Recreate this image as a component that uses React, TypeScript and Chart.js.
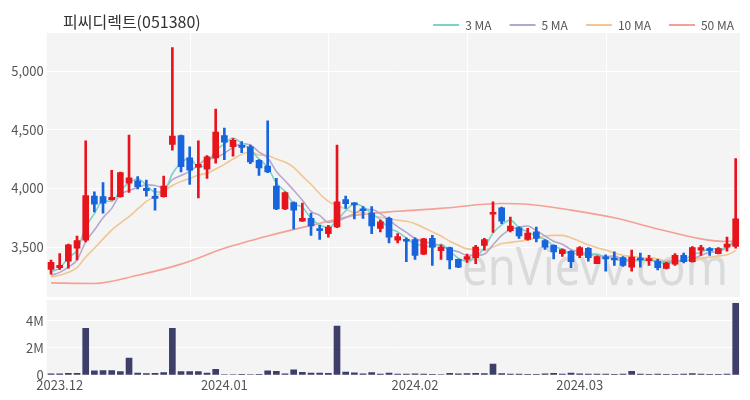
import React, { useEffect, useRef } from 'react';
import { Chart, registerables } from 'chart.js';

Chart.register(...registerables);

const FONT = '"Noto Sans CJK KR", "Noto Sans", sans-serif';
Chart.defaults.font.family = FONT;

const titleText = '피씨디렉트(051380)';
const watermarkText = 'enVievv.com';

const dates = [
  '2023-11-30',
  '2023-12-01', '2023-12-04', '2023-12-05', '2023-12-06', '2023-12-07', '2023-12-08', '2023-12-11', '2023-12-12', '2023-12-13', '2023-12-14',
  '2023-12-15', '2023-12-18', '2023-12-19', '2023-12-20', '2023-12-21', '2023-12-22', '2023-12-26', '2023-12-27', '2023-12-28',
  '2024-01-02', '2024-01-03', '2024-01-04', '2024-01-05', '2024-01-08', '2024-01-09', '2024-01-10', '2024-01-11', '2024-01-12', '2024-01-15',
  '2024-01-16', '2024-01-17', '2024-01-18', '2024-01-19', '2024-01-22', '2024-01-23', '2024-01-24', '2024-01-25', '2024-01-26', '2024-01-29',
  '2024-01-30', '2024-01-31',
  '2024-02-01', '2024-02-02', '2024-02-05', '2024-02-06', '2024-02-07', '2024-02-08', '2024-02-13', '2024-02-14', '2024-02-15', '2024-02-16',
  '2024-02-19', '2024-02-20', '2024-02-21', '2024-02-22', '2024-02-23', '2024-02-26', '2024-02-27', '2024-02-28', '2024-02-29',
  '2024-03-04', '2024-03-05', '2024-03-06', '2024-03-07', '2024-03-08', '2024-03-11', '2024-03-12', '2024-03-13', '2024-03-14', '2024-03-15',
  '2024-03-18', '2024-03-19', '2024-03-20', '2024-03-21', '2024-03-22', '2024-03-25', '2024-03-26', '2024-03-27', '2024-03-28',
];

const openPrices = [
  3310, 3325, 3380, 3490, 3560, 3935, 3930, 3905, 3930, 4045,
  4065, 4000, 3925, 3930, 4375, 4450, 4260, 4180, 4165, 4260,
  4450, 4355, 4365, 4355, 4240, 4190, 4020, 3825, 3880, 3720,
  3745, 3650, 3615, 3672, 3905, 3875, 3820, 3790, 3660, 3745,
  3560, 3565, 3565, 3440, 3575, 3470, 3495, 3395, 3395, 3410,
  3515, 3780, 3835, 3640, 3665, 3565, 3630, 3555, 3515, 3445,
  3465, 3430, 3490, 3360, 3415, 3400, 3410, 3330, 3400, 3385,
  3380, 3318, 3355, 3430, 3375, 3475, 3485, 3445, 3500, 3505,
];
const highPrices = [
  3390, 3445, 3525, 3595, 4405, 3970, 4050, 4155, 4140, 4455,
  4100, 4070, 4000, 4105, 5200, 4455, 4355, 4405, 4280, 4675,
  4515, 4425, 4400, 4370, 4245, 4575, 4085, 3970, 3885, 3875,
  3790, 3685, 3685, 4370, 3935, 3880, 3845, 3845, 3730, 3755,
  3615, 3580, 3580, 3575, 3600, 3520, 3500, 3398, 3440, 3515,
  3575, 3885, 3840, 3755, 3672, 3660, 3670, 3565, 3520, 3485,
  3470, 3505, 3495, 3425, 3435, 3460, 3420, 3475, 3450, 3430,
  3395, 3370, 3445, 3450, 3505, 3515, 3495, 3495, 3585, 4255,
];
const lowPrices = [
  3270, 3310, 3320, 3390, 3545, 3800, 3790, 3900, 3925, 3965,
  3995, 3935, 3815, 3925, 4325, 4140, 4035, 3920, 4085, 4215,
  4245, 4275, 4305, 4210, 4110, 4135, 3820, 3820, 3655, 3718,
  3600, 3565, 3585, 3665, 3830, 3740, 3745, 3615, 3630, 3535,
  3535, 3375, 3395, 3435, 3345, 3395, 3315, 3325, 3370, 3360,
  3475, 3625, 3700, 3630, 3575, 3560, 3545, 3480, 3400, 3420,
  3325, 3410, 3380, 3358, 3295, 3345, 3335, 3295, 3330, 3345,
  3305, 3315, 3345, 3365, 3372, 3430, 3430, 3443, 3465, 3490,
];
const closePrices = [
  3370, 3345, 3520, 3555, 3940, 3865, 3875, 3925, 4135, 4090,
  4015, 3980, 3915, 4020, 4445, 4185, 4155, 4205, 4270, 4480,
  4395, 4410, 4350, 4225, 4175, 4140, 3825, 3965, 3815, 3745,
  3680, 3640, 3670, 3885, 3870, 3860, 3810, 3680, 3715, 3585,
  3590, 3550, 3430, 3570, 3500, 3500, 3390, 3330, 3420, 3500,
  3565, 3790, 3720, 3680, 3595, 3620, 3575, 3500, 3460, 3480,
  3375, 3495, 3410, 3420, 3400, 3390, 3345, 3415, 3390, 3400,
  3325, 3365, 3430, 3375, 3495, 3495, 3470, 3488, 3525, 3740,
];

// volume in millions of shares
const volumesM = [
  0.08, 0.09, 0.12, 0.13, 3.45, 0.30, 0.33, 0.33, 0.25, 1.25,
  0.14, 0.10, 0.12, 0.18, 3.45, 0.25, 0.25, 0.25, 0.15, 0.42,
  0.04, 0.04, 0.05, 0.04, 0.05, 0.30, 0.27, 0.08, 0.38, 0.20,
  0.15, 0.15, 0.13, 3.62, 0.22, 0.16, 0.08, 0.17, 0.07, 0.14,
  0.06, 0.06, 0.08, 0.07, 0.05, 0.04, 0.12, 0.08, 0.10, 0.12,
  0.10, 0.80, 0.10, 0.07, 0.06, 0.05, 0.05, 0.08, 0.12, 0.07,
  0.15, 0.08, 0.06, 0.06, 0.07, 0.05, 0.06, 0.28, 0.06, 0.05,
  0.06, 0.05, 0.05, 0.07, 0.10, 0.06, 0.05, 0.05, 0.06, 5.30,
];

const ma3 = [
  3290, 3320, 3410, 3475, 3670, 3785, 3895, 3890, 3980, 4050,
  4080, 4030, 3970, 3970, 4125, 4215, 4260, 4180, 4210, 4320,
  4380, 4430, 4385, 4330, 4250, 4180, 4045, 3975, 3870, 3840,
  3745, 3690, 3665, 3730, 3810, 3870, 3845, 3785, 3735, 3660,
  3630, 3575, 3525, 3515, 3500, 3525, 3465, 3405, 3380, 3415,
  3495, 3620, 3690, 3730, 3665, 3630, 3595, 3565, 3510, 3480,
  3440, 3450, 3425, 3440, 3410, 3405, 3380, 3385, 3385, 3400,
  3370, 3365, 3375, 3390, 3435, 3455, 3485, 3485, 3495, 3585,
];
const ma5 = [
  3260, 3285, 3330, 3390, 3545, 3645, 3750, 3830, 3950, 3980,
  4010, 4030, 4025, 4005, 4075, 4110, 4145, 4200, 4250, 4260,
  4300, 4350, 4380, 4370, 4310, 4260, 4145, 4065, 3985, 3900,
  3805, 3770, 3710, 3725, 3750, 3785, 3820, 3820, 3785, 3730,
  3675, 3625, 3575, 3545, 3530, 3510, 3480, 3460, 3430, 3430,
  3440, 3520, 3600, 3650, 3670, 3680, 3640, 3595, 3550, 3525,
  3480, 3460, 3445, 3435, 3420, 3425, 3395, 3395, 3390, 3390,
  3375, 3380, 3380, 3380, 3400, 3430, 3455, 3465, 3495, 3545,
];
const ma10 = [
  3245, 3260, 3285, 3325, 3415, 3490, 3570, 3645, 3705, 3760,
  3825, 3890, 3930, 3975, 4025, 4060, 4085, 4115, 4130, 4165,
  4205, 4250, 4290, 4310, 4285, 4280, 4250, 4225, 4180, 4105,
  4035, 3955, 3890, 3855, 3825, 3795, 3795, 3765, 3755, 3740,
  3730, 3720, 3700, 3665, 3630, 3595, 3550, 3515, 3485, 3480,
  3475, 3500, 3530, 3540, 3550, 3560, 3580, 3595, 3600, 3600,
  3580, 3550, 3520, 3495, 3475, 3450, 3430, 3420, 3410, 3405,
  3400, 3385, 3390, 3385, 3395, 3405, 3415, 3425, 3435, 3470,
];
// 50 MA read at sample candles (index into dates) and its values
const ma50Index = [0, 5, 10, 15, 20, 25, 30, 35, 40, 45, 50, 52, 55, 60, 65, 70, 75, 78, 79];
const ma50Values = [3195, 3190, 3260, 3355, 3490, 3595, 3685, 3770, 3805, 3830, 3865, 3872, 3865, 3815, 3750, 3655, 3570, 3548, 3555];

const priceTicks = [3500, 4000, 4500, 5000];
const volumeTicks = [0, 2, 4];

const UP = '#e8141c';
const DOWN = '#1764dd';
const VOL = '#3e3e6b';
const C3 = '#7ad3ca';
const C5 = '#b6a8cd';
const C10 = '#f2c690';
const C50 = '#f4a193';
const PANEL_BG = '#f4f4f5';
const TEXT = '#555555';

const candleColors = closePrices.map((c, i) => (c >= openPrices[i] ? UP : DOWN));

function monthLabel(i: number): string | null {
  if (i <= 0) return null;
  const d = dates[i];
  const p = dates[i - 1];
  if (d.slice(5, 7) !== p.slice(5, 7)) return d.slice(0, 4) + '.' + d.slice(5, 7);
  return null;
}

const bgPlugin = {
  id: 'panelBg',
  beforeDraw(chart: any) {
    const { ctx, chartArea: a } = chart;
    ctx.save();
    ctx.fillStyle = PANEL_BG;
    ctx.fillRect(a.left, a.top, a.right - a.left, a.bottom - a.top);
    ctx.restore();
  },
};

const mainDecor = {
  id: 'mainDecor',
  afterLayout(chart: any) {
    if (chart.legend) {
      chart.legend.left += 12;
      chart.legend.right += 12;
    }
  },
  beforeDatasetsDraw(chart: any) {
    const { ctx, chartArea: a, scales } = chart;
    ctx.save();
    ctx.strokeStyle = '#ffffff';
    ctx.lineWidth = 1;
    [16, 32, 48, 64].forEach((idx) => {
      const x = Math.round(scales.x.getPixelForValue(idx)) + 0.5;
      ctx.beginPath();
      ctx.moveTo(x, a.top);
      ctx.lineTo(x, a.bottom);
      ctx.stroke();
    });
    ctx.font = '52px "Noto Sans", sans-serif';
    const w = ctx.measureText(watermarkText).width;
    const target = 266;
    ctx.fillStyle = '#dadada';
    ctx.textBaseline = 'alphabetic';
    ctx.translate(a.right - 12 - target, a.bottom - 12);
    ctx.scale(target / w, 1);
    ctx.fillText(watermarkText, 0, 0);
    ctx.restore();
  },
  afterDraw(chart: any) {
    const { ctx } = chart;
    ctx.save();
    ctx.font = `16px ${FONT}`;
    ctx.fillStyle = '#333333';
    ctx.textBaseline = 'middle';
    ctx.textAlign = 'left';
    ctx.fillText(titleText, 63, 22);
    ctx.restore();
  },
};

const fixYWidth = (s: any) => {
  s.width = 46.7;
  s.paddingTop = 0;
  s.paddingBottom = 0;
};

export default function App() {
  const mainRef = useRef<HTMLCanvasElement>(null);
  const volRef = useRef<HTMLCanvasElement>(null);

  useEffect(() => {
    const lineDs = (label: string, data: any, color: string) => ({
      type: 'line' as const,
      label,
      data,
      borderColor: color,
      backgroundColor: color,
      borderWidth: 1.6,
      pointRadius: 0,
      cubicInterpolationMode: 'monotone' as const,
      order: 5,
    });

    const main = new Chart(mainRef.current as HTMLCanvasElement, {
      type: 'bar',
      data: {
        labels: dates,
        datasets: [
          lineDs('3 MA', ma3, C3),
          lineDs('5 MA', ma5, C5),
          lineDs('10 MA', ma10, C10),
          lineDs(
            '50 MA',
            ma50Index.map((idx, k) => ({ x: dates[idx], y: ma50Values[k] })),
            C50
          ),
          {
            type: 'bar',
            label: 'wick',
            data: dates.map((_, i) => [lowPrices[i], highPrices[i]]),
            backgroundColor: candleColors,
            barThickness: 2,
            grouped: false,
            order: 2,
          },
          {
            type: 'bar',
            label: 'body',
            data: dates.map((_, i) => [openPrices[i], closePrices[i]]),
            backgroundColor: candleColors,
            barThickness: 6,
            minBarLength: 2,
            grouped: false,
            order: 1,
          },
        ] as any,
      },
      options: {
        responsive: true,
        maintainAspectRatio: false,
        animation: false,
        events: [],
        layout: { padding: { left: 0, right: 10, top: 1, bottom: 3 } },
        plugins: {
          title: { display: false },
          tooltip: { enabled: false },
          legend: {
            position: 'top',
            align: 'end',
            maxHeight: 32,
            labels: {
              boxWidth: 26,
              boxHeight: 2,
              padding: 18,
              color: TEXT,
              font: { size: 12, family: FONT },
              generateLabels: (chart: any) =>
                (Chart.defaults.plugins.legend.labels as any)
                  .generateLabels(chart)
                  .map((l: any) => ({ ...l, fillStyle: l.strokeStyle, lineWidth: 0 })),
              filter: (item: any) => /MA$/.test(item.text),
            },
          } as any,
        },
        scales: {
          x: {
            type: 'category',
            display: false,
            offset: true,
            grid: { display: false },
          },
          y: {
            min: 3075,
            max: 5324,
            afterFit: fixYWidth,
            afterBuildTicks: (s: any) => {
              s.ticks = priceTicks.map((v) => ({ value: v }));
            },
            ticks: {
              padding: 3,
              color: TEXT,
              font: { size: 13, family: FONT },
              callback: (v: any) => Number(v).toLocaleString('en-US'),
            },
            grid: { color: '#ffffff', lineWidth: 1, drawTicks: false },
            border: { display: false },
          },
        },
      },
      plugins: [bgPlugin, mainDecor],
    });

    const vol = new Chart(volRef.current as HTMLCanvasElement, {
      type: 'bar',
      data: {
        labels: dates,
        datasets: [
          {
            label: 'Volume',
            data: volumesM,
            backgroundColor: VOL,
            barThickness: 6,
          },
        ],
      },
      options: {
        responsive: true,
        maintainAspectRatio: false,
        animation: false,
        events: [],
        layout: { padding: { left: 0, right: 10, top: 10, bottom: 0 } },
        plugins: { legend: { display: false }, tooltip: { enabled: false } },
        scales: {
          x: {
            type: 'category',
            offset: true,
            grid: { display: false, drawTicks: false },
            border: { display: false },
            afterFit: (s: any) => {
              s.height = 25;
              s.paddingLeft = 0;
              s.paddingRight = 0;
            },
            ticks: {
              autoSkip: false,
              maxRotation: 0,
              padding: 2,
              color: TEXT,
              font: { size: 13, family: FONT },
              callback: (_v: any, i: number) => monthLabel(i) as any,
            },
          },
          y: {
            min: 0,
            max: 5.55,
            afterFit: fixYWidth,
            afterBuildTicks: (s: any) => {
              s.ticks = volumeTicks.map((v) => ({ value: v }));
            },
            ticks: {
              padding: 3,
              color: TEXT,
              font: { size: 13, family: FONT },
              callback: (v: any) => (Number(v) === 0 ? '0' : `${v}M`),
            },
            grid: { color: '#ffffff', lineWidth: 1, drawTicks: false },
            border: { display: false },
          },
        },
      },
      plugins: [bgPlugin],
    });

    return () => {
      main.destroy();
      vol.destroy();
    };
  }, []);

  return (
    <div
      style={{
        position: 'fixed',
        left: 0,
        top: 0,
        width: 750,
        height: 400,
        background: '#ffffff',
        overflow: 'hidden',
      }}
    >
      <div style={{ position: 'absolute', left: 0, top: 0, width: 750, height: 300 }}>
        <canvas ref={mainRef} />
      </div>
      <div style={{ position: 'absolute', left: 0, top: 290, width: 750, height: 110 }}>
        <canvas ref={volRef} />
      </div>
    </div>
  );
}
